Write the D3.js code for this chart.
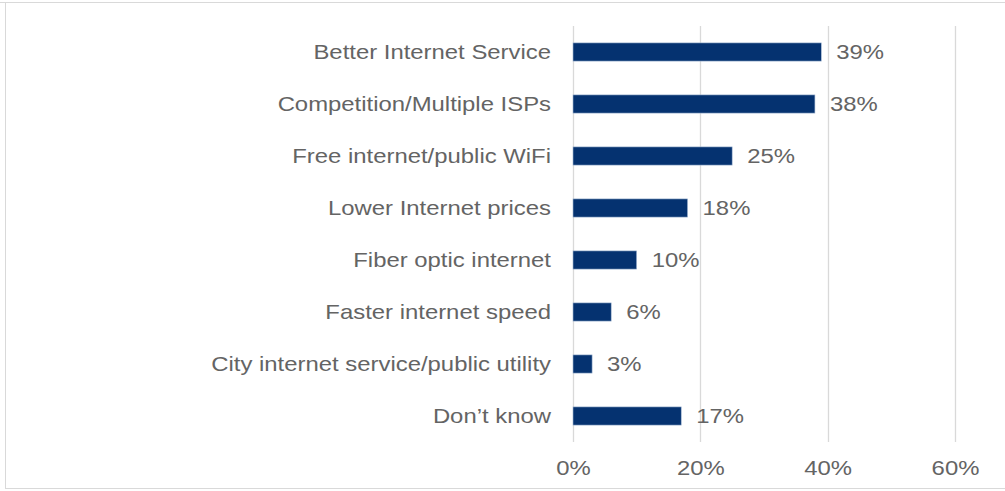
<!DOCTYPE html>
<html><head><meta charset="utf-8">
<script src="https://cdn.jsdelivr.net/npm/d3@7"></script>
<style>body{margin:0;background:#fff;}svg{display:block;}</style>
</head><body><svg id="c" width="1005" height="491"></svg>
<script>
const categories = ["Better Internet Service","Competition/Multiple ISPs","Free internet/public WiFi","Lower Internet prices","Fiber optic internet","Faster internet speed","City internet service/public utility","Don\u2019t know"];
const values = [39,38,25,18,10,6,3,17];
const valueLabels = ["39%","38%","25%","18%","10%","6%","3%","17%"];
const tickValues = [0,20,40,60];

const svg = d3.select("#c");
const font = "'Liberation Sans', Arial, sans-serif";
const textColor = "#646464";
const sx = 1.165; // horizontal stretch of text as in the reference
// frame
svg.append("line").attr("x1",0).attr("x2",1005).attr("y1",2.5).attr("y2",2.5).attr("stroke","#d9d9d9");
svg.append("line").attr("x1",5.5).attr("x2",5.5).attr("y1",2).attr("y2",489).attr("stroke","#d9d9d9");
svg.append("line").attr("x1",5).attr("x2",1005).attr("y1",488.5).attr("y2",488.5).attr("stroke","#d9d9d9");

const x = d3.scaleLinear().domain([0,60]).range([573,955]);
const y = d3.scaleBand().domain(categories).range([26,442]).paddingInner(0.65).paddingOuter(0.325);

const grid = svg.append("g");
grid.selectAll("line").data(tickValues).join("line")
  .attr("x1",d=>Math.round(x(d))+0.5).attr("x2",d=>Math.round(x(d))+0.5)
  .attr("y1",26).attr("y2",442).attr("stroke","#d9d9d9").attr("stroke-width",1.3);

const xAxis = d3.axisBottom(x).tickValues(tickValues).tickFormat(d=>d+"%").tickSize(0).tickPadding(0);
const ax = svg.append("g").call(xAxis);
ax.select(".domain").remove();
ax.selectAll("text").attr("font-family",font).attr("font-size",20.5).attr("fill",textColor)
  .attr("y",475).attr("dy",0).attr("transform",`scale(${sx},1)`);

const yAxis = d3.axisLeft(y).tickSize(0);
const ay = svg.append("g").attr("transform","translate(573,0)").call(yAxis);
ay.select(".domain").remove();
ay.selectAll("text").attr("font-family",font).attr("font-size",20.5).attr("fill",textColor)
  .attr("x",-22/sx).attr("transform",`scale(${sx},1)`);

svg.append("g").selectAll("rect").data(values).join("rect")
  .attr("x",x(0)).attr("y",(d,i)=>y(categories[i]))
  .attr("width",d=>x(d)-x(0)).attr("height",y.bandwidth())
  .attr("fill","#053270").attr("stroke","#a9bcd6").attr("stroke-width",0.6);

svg.append("g").selectAll("text").data(values).join("text")
  .attr("x",d=>(x(d)+15)/sx).attr("y",(d,i)=>y(categories[i])+y.bandwidth()/2)
  .attr("transform",`scale(${sx},1)`)
  .attr("dy","0.36em").attr("font-family",font).attr("font-size",20.5).attr("fill",textColor)
  .text((d,i)=>valueLabels[i]);
</script></body></html>
